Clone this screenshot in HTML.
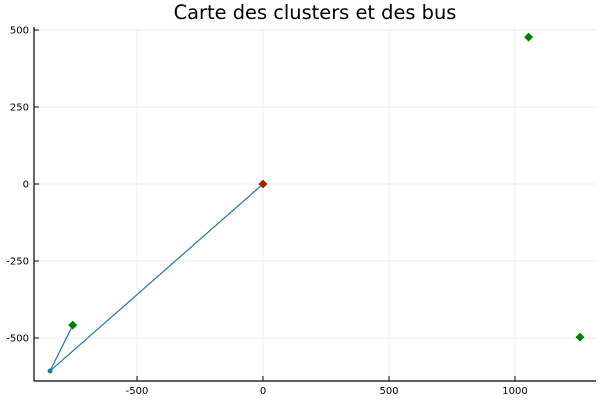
<!DOCTYPE html>
<html><head><meta charset="utf-8"><style>
body{margin:0;background:#fff}
svg{display:block;font-family:"DejaVu Sans","Liberation Sans",sans-serif}
</style></head><body>
<svg id="chart" width="600" height="400">
<text x="315" y="19" text-anchor="middle" font-size="19.4">Carte des clusters et des bus</text>
<g id="grid"></g><g id="axes"></g><g id="marks"></g>
</svg>
<script>
const xTicks=[-500,0,500,1000];
const yTicks=[-500,-250,0,250,500];
const linkX=[-755,-845,0];
const linkY=[-458,-607,0];
const busX=[-845];
const busY=[-607];
const clusterX=[0,1054,1258,-755];
const clusterY=[0,477,-497,-458];
const centerX=[0];
const centerY=[0];
const L=34,R=596,T=27,B=381;
const sx=v=>263+v*0.252;
const sy=v=>184-v*0.308;
const NS="http://www.w3.org/2000/svg";
function mk(t,a,p){const e=document.createElementNS(NS,t);for(const k in a)e.setAttribute(k,a[k]);p.appendChild(e);return e;}
const grid=document.getElementById('grid'),axes=document.getElementById('axes'),marks=document.getElementById('marks');
xTicks.forEach(v=>{const x=sx(v);
const g=mk('line',{x1:x,x2:x,y1:T,y2:B,stroke:'#ececec','stroke-width':1},grid);


mk('line',{x1:x,x2:x,y1:B,y2:B-5,stroke:'#000'},axes);
const t=mk('text',{x:x,y:B+13,'text-anchor':'middle','font-size':10},axes);t.textContent=v;

});
yTicks.forEach(v=>{const y=sy(v);
const g=mk('line',{x1:L,x2:R,y1:y,y2:y,stroke:'#ececec','stroke-width':1},grid);


mk('line',{x1:L,x2:L+5,y1:y,y2:y,stroke:'#000'},axes);
const t=mk('text',{x:L-5,y:y+3.5,'text-anchor':'end','font-size':10},axes);t.textContent=v;

});
const xa=mk('line',{x1:L,x2:R,y1:B,y2:B,stroke:'#000','stroke-width':1.2},axes);


const ya=mk('line',{x1:L,x2:L,y1:T,y2:B,stroke:'#000','stroke-width':1.2},axes);


const pl=mk('polyline',{points:linkX.map((v,i)=>sx(v)+','+sy(linkY[i])).join(' '),fill:'none',stroke:'#1f77b4','stroke-width':1.2},marks);


busX.forEach((v,i)=>{const c=mk('circle',{cx:sx(v),cy:sy(busY[i]),r:2.5,fill:'#1f77b4'},marks);

});
function diamond(x,y,s,col){return mk('polygon',{points:`${x},${y-s} ${x+s},${y} ${x},${y+s} ${x-s},${y}`,fill:col},marks);}
clusterX.forEach((v,i)=>{const d=diamond(sx(v),sy(clusterY[i]),4.5,'#008000');

});
centerX.forEach((v,i)=>{const d=diamond(sx(v),sy(centerY[i]),3.8,'#e00000');

});
</script>
</body></html>
